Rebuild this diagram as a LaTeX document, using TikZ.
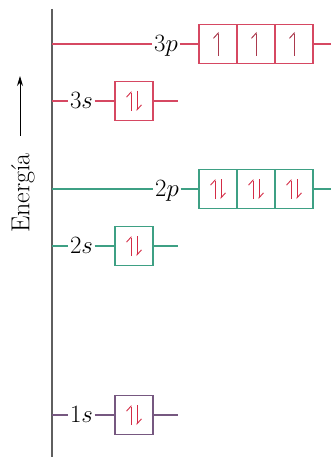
\documentclass[tikz,border=0pt]{standalone}
\usepackage{tikz}
\usetikzlibrary{arrows.meta, positioning}
\definecolor{lvlred}{RGB}{214,72,98}
\definecolor{lvlgreen}{RGB}{62,160,132}
\definecolor{lvlpurple}{RGB}{118,88,128}
\definecolor{spinred}{RGB}{212,44,70}
\definecolor{axisgray}{RGB}{95,95,95}
\tikzset{
  lvl/.style={line width=1.2pt},
  orb/.style={draw, line width=1.3pt, minimum width=38pt, minimum height=39pt, inner sep=0pt},
  lbl/.style={font=\fontsize{24}{28}\selectfont, inner sep=1.5pt, text height=15.5pt, text depth=0pt},
  spin/.style={spinred, line width=0.9pt, -{Straight Barb[left,length=5pt,width=9pt]}}}

\begin{document}
\begin{tikzpicture}[x=1pt, y=-1pt]
\useasboundingbox (0,0) rectangle (334,457);
% energy axis
\coordinate (top) at (52,9);
\coordinate (bot) at (52,457);
\draw [axisgray, line width=1.8pt] (top) -- (bot);
\node [rotate=90, font=\fontsize{26}{30}\selectfont, inner sep=0pt] (en) at (23,193) {Energía};
\coordinate (ar0) at (20,136);
\coordinate (ar1) at (20,76);
\draw [line width=1pt, -{Stealth[length=10pt,width=6pt]}] (ar0) -- (ar1);

% 3p
\coordinate (a3p) at (52,44);
\coordinate (e3p) at (331,44);
\node [lbl] (l3p) at (166,44) {$3p$};
\node [orb, lvlred] (c3p1) at (218,44) {};
\node [orb, lvlred] (c3p2) at (256,44) {};
\node [orb, lvlred] (c3p3) at (294,44) {};
\draw [lvl, lvlred] (a3p) -- (l3p) (l3p) -- (c3p1) (c3p3) -- (e3p);

% 3s
\coordinate (a3s) at (52,101);
\coordinate (e3s) at (178,101);
\node [lbl] (l3s) at (81.5,101) {$3s$};
\node [orb, lvlred] (b3s) at (134,101) {};
\draw [lvl, lvlred] (a3s) -- (l3s) (l3s) -- (b3s) (b3s) -- (e3s);

% 2p
\coordinate (a2p) at (52,189);
\coordinate (e2p) at (331,189);
\node [lbl] (l2p) at (167,189) {$2p$};
\node [orb, lvlgreen] (c2p1) at (218,189) {};
\node [orb, lvlgreen] (c2p2) at (256,189) {};
\node [orb, lvlgreen] (c2p3) at (294,189) {};
\draw [lvl, lvlgreen] (a2p) -- (l2p) (l2p) -- (c2p1) (c2p3) -- (e2p);

% 2s
\coordinate (a2s) at (52,246);
\coordinate (e2s) at (178,246);
\node [lbl] (l2s) at (81.5,246) {$2s$};
\node [orb, lvlgreen] (b2s) at (134,246) {};
\draw [lvl, lvlgreen] (a2s) -- (l2s) (l2s) -- (b2s) (b2s) -- (e2s);

% 1s
\coordinate (a1s) at (52,415);
\coordinate (e1s) at (178,415);
\node [lbl] (l1s) at (81.5,415) {$1s$};
\node [orb, lvlpurple] (b1s) at (134,415) {};
\draw [lvl, lvlpurple] (a1s) -- (l1s) (l1s) -- (b1s) (b1s) -- (e1s);

% electrons: paired
\foreach \b in {b1s, b2s, b3s, c2p1, c2p2, c2p3} {
  \draw [spin] ([xshift=-3pt, yshift=-10pt]\b.center) -- ++(0,20pt);
  \draw [spin] ([xshift=3pt, yshift=10pt]\b.center) -- ++(0,-20pt);
}
% electrons: unpaired
\foreach \b in {c3p1, c3p2, c3p3}
  \draw [spin, lvlred!80!black, line width=1pt] ([yshift=-12pt]\b.center) -- ++(0,24pt);
\end{tikzpicture}
\end{document}
